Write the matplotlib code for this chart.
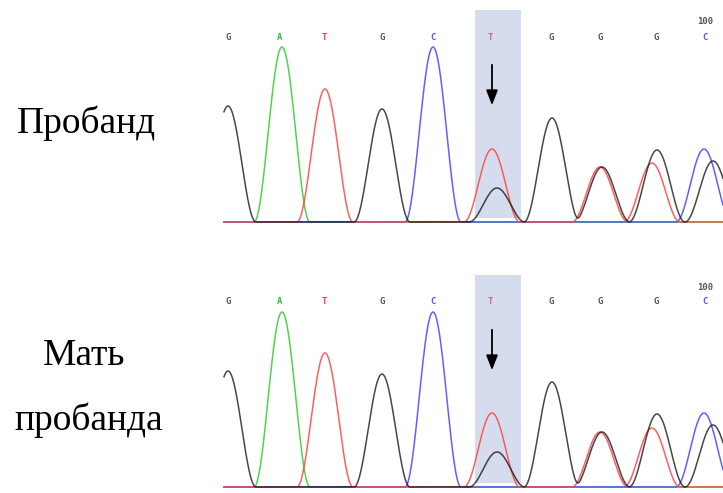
import numpy as np
import matplotlib
matplotlib.use('Agg')
import matplotlib.pyplot as plt

# base calls shown above the trace
bases = ['G', 'A', 'T', 'G', 'C', 'T', 'G', 'G', 'G', 'C']
base_pos = [6, 58, 102, 160, 211, 268, 329, 378, 434, 483]

# peaks per channel: (position, height) -- proband
proband_peaks = {
    'G': [(6, 116), (160, 113), (275, 34), (330, 104), (380, 55), (435, 72), (491, 61)],
    'A': [(60, 175)],
    'T': [(103, 133), (270, 73), (378, 55), (430, 59)],
    'C': [(211, 175), (482, 73)],
}
# mother of proband
mother_peaks = {
    'G': [(6, 116), (160, 113), (275, 35), (330, 105), (380, 55), (435, 73), (491, 62)],
    'A': [(60, 175)],
    'T': [(103, 134), (270, 74), (378, 55), (430, 59)],
    'C': [(211, 175), (482, 74)],
}

trace_colors = {'G': '#1a1a1a', 'A': '#33cc33', 'T': '#ff4444', 'C': '#4444ff'}
label_colors = {'G': '#555555', 'A': '#33bb33', 'T': '#ee4444', 'C': '#5555ee'}

W, H = 723, 493
fig = plt.figure(figsize=(W / 100, H / 100), dpi=100)

HALF = 28  # peak half width at base
x = np.linspace(2, 501, 1500)


def peak(pos, h):
    d = np.clip(np.abs(x - pos) / HALF, 0, 1)
    return h * np.cos(np.pi * d / 2) ** 2


def draw_panel(top_px, peaks):
    ax = fig.add_axes([222 / W, 1 - (top_px + 216) / H, 501 / W, 216 / H])
    ax.set_xlim(0, 501)
    ax.set_ylim(-4, 212)
    ax.axis('off')
    # highlighted position
    ax.axvspan(253, 299, ymin=(4 + 4) / 216, ymax=1, color='#d5dcee', lw=0, zorder=0)
    for ch in ['G', 'A', 'C', 'T']:
        y = np.zeros_like(x)
        for pos, h in peaks[ch]:
            y += peak(pos, h)
        alpha = 0.8 if ch == 'G' else 0.85
        ax.plot(x, y, color=trace_colors[ch], lw=1.1, alpha=alpha, zorder=3 if ch == 'G' else 2)
    for b, p in zip(bases, base_pos):
        c = label_colors[b]
        if p == 268:
            c = '#cc6680'
        ax.text(p, 185, b, color=c, ha='center', va='center', fontsize=6.5,
                fontweight='bold', family='DejaVu Sans Mono')
    ax.text(483, 200, '100', color='#555555', ha='center', va='center', fontsize=6.5,
            fontweight='bold', family='DejaVu Sans Mono')
    ax.annotate('', xy=(270, 114), xytext=(270, 160),
                arrowprops=dict(arrowstyle='-|>,head_width=0.35,head_length=0.9',
                                color='black', lw=1.3), zorder=5)
    return ax


draw_panel(10, proband_peaks)
draw_panel(275, mother_peaks)

font = dict(family='Liberation Serif', fontsize=27, ha='center', va='baseline')
fig.text(86 / W, 1 - 133 / H, 'Пробанд', **font)
fig.text(84 / W, 1 - 365 / H, 'Мать', **font)
fig.text(89 / W, 1 - 430 / H, 'пробанда', **font)

fig.savefig('out.png', dpi=100)
